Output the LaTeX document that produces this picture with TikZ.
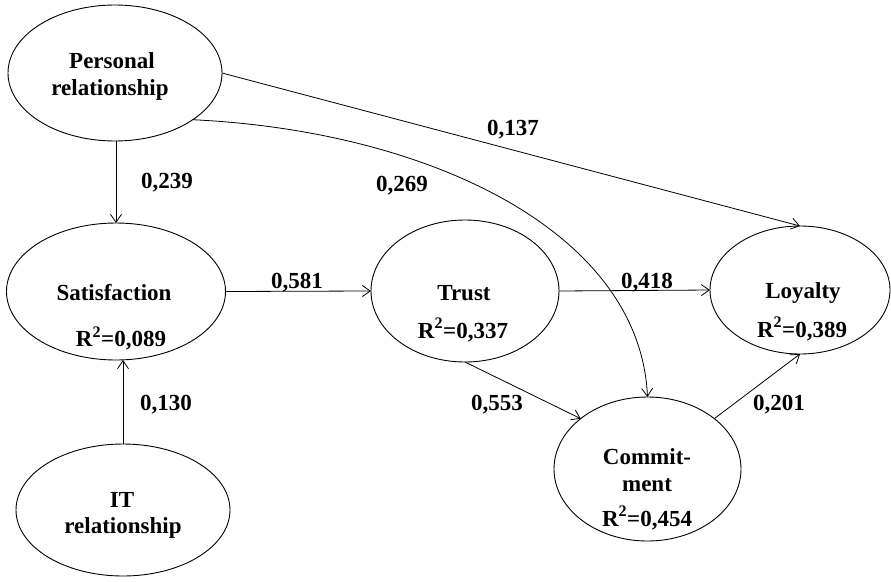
\documentclass[tikz,border=0pt]{standalone}
\usepackage{fontspec}
\setmainfont{Liberation Serif}
\usetikzlibrary{shapes.geometric,arrows.meta}
\begin{document}
\begin{tikzpicture}[x=1pt,y=-1pt,
  latent/.style={draw, ellipse, line width=0.9pt, inner sep=0pt, outer sep=0pt},
  txt/.style={font=\fontsize{23}{26}\selectfont\bfseries, inner sep=0pt, anchor=base},
  coef/.style={font=\fontsize{23}{26}\selectfont\bfseries, inner sep=0pt, anchor=base},
  link/.style={line width=0.8pt, -{Straight Barb[length=8pt,width=11pt,line width=0.8pt]}}
]
\useasboundingbox[fill=white] (0,0) rectangle (891,581);

% constructs
\node[latent, minimum width=214pt, minimum height=136pt] (per) at (115,73) {};
\node[latent, minimum width=219pt, minimum height=137pt] (sat) at (116,291.5) {};
\node[latent, minimum width=214pt, minimum height=132pt] (it)  at (123,510) {};
\node[latent, minimum width=188pt, minimum height=142pt] (tru) at (465,291) {};
\node[latent, minimum width=180pt, minimum height=128pt] (loy) at (800,290) {};
\node[latent, minimum width=187pt, minimum height=144pt] (com) at (647.5,469) {};

% texts
\node[txt] (perA) at (112,68) {Personal};
\node[txt] (perB) at (110,95) {relationship};
\node[txt] (satA) at (114,300) {Satisfaction};
\node[txt] (satB) at (121,346.5) {R\textsuperscript{2}=0,089};
\node[txt] (itA)  at (122,507) {IT};
\node[txt] (itB)  at (123,533) {relationship};
\node[txt] (truA) at (464,300) {Trust};
\node[txt] (truB) at (463,338) {R\textsuperscript{2}=0,337};
\node[txt] (loyA) at (803,298) {Loyalty};
\node[txt] (loyB) at (802,337) {R\textsuperscript{2}=0,389};
\node[txt] (comA) at (647,464) {Commit-};
\node[txt] (comB) at (647,491) {ment};
\node[txt] (comC) at (647,526) {R\textsuperscript{2}=0,454};

% paths
\draw[link] (per.south -| sat.north) -- (sat.north);
\draw[link] (it.north) -- (it.north |- sat.south);
\draw[link] (sat.east) -- (tru.west);
\draw[link] (tru.east) -- (loy.west);
\draw[link] (per.east) -- (loy.north);
\draw[link] (tru.south) -- (com.143);
\draw[link] (com.37) -- (loy.south);
\draw[link] (per.-31) .. controls (430,131) and (640,232) .. (com.north);

% coefficients
\node[coef] (c239) at (167,188) {0,239};
\node[coef] (c130) at (166,410) {0,130};
\node[coef] (c581) at (297,288) {0,581};
\node[coef] (c418) at (647,288) {0,418};
\node[coef] (c553) at (497,410) {0,553};
\node[coef] (c201) at (779,410) {0,201};
\node[coef] (c137) at (513,135) {0,137};
\node[coef] (c269) at (402,191) {0,269};
\end{tikzpicture}
\end{document}
